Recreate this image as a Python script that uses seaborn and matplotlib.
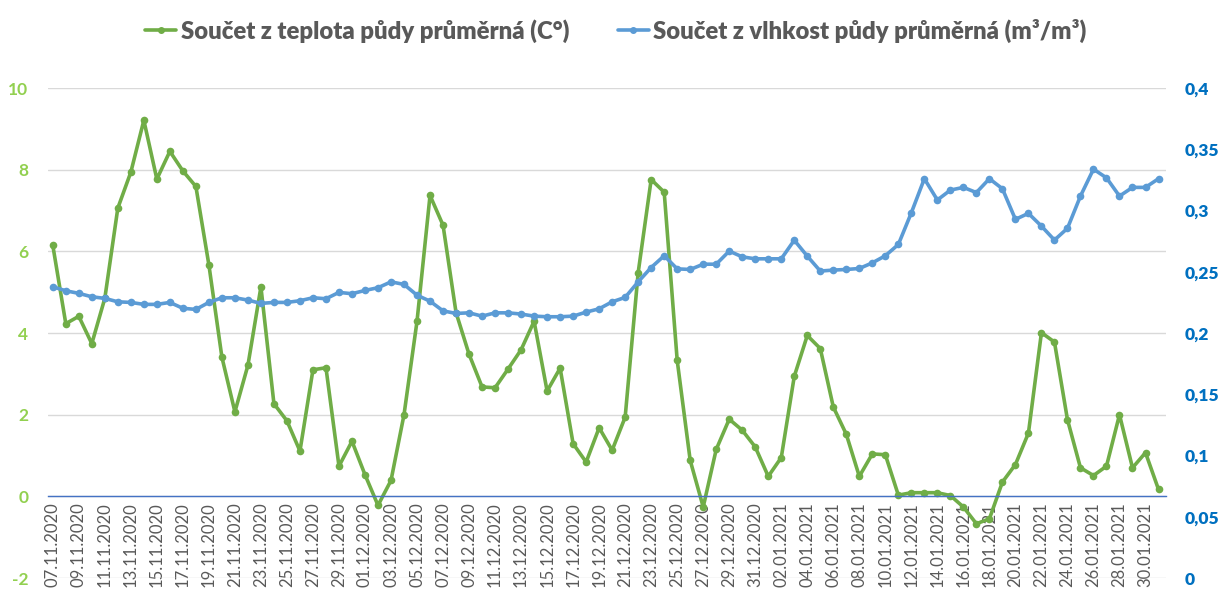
import pandas as pd
import matplotlib.pyplot as plt
import matplotlib.ticker as mticker
from matplotlib.lines import Line2D
import seaborn as sns

# daily values 07.11.2020 - 31.01.2021
dates = pd.date_range("2020-11-07", "2021-01-31", freq="D")

teplota = [6.15, 4.23, 4.41, 3.74, 4.85, 7.06, 7.94, 9.21, 7.77, 8.45,
           7.97, 7.59, 5.67, 3.41, 2.07, 3.21, 5.13, 2.27, 1.85, 1.11,
           3.10, 3.15, 0.74, 1.35, 0.53, -0.22, 0.39, 2.00, 4.29, 7.37,
           6.64, 4.50, 3.48, 2.68, 2.66, 3.12, 3.59, 4.29, 2.58, 3.14,
           1.29, 0.84, 1.68, 1.13, 1.94, 5.48, 7.76, 7.45, 3.33, 0.88,
           -0.26, 1.15, 1.89, 1.62, 1.21, 0.49, 0.95, 2.94, 3.94, 3.62,
           2.19, 1.52, 0.49, 1.04, 1.02, 0.03, 0.09, 0.09, 0.09, 0.02,
           -0.26, -0.67, -0.55, 0.35, 0.78, 1.55, 4.01, 3.78, 1.88, 0.70,
           0.51, 0.74, 2.00, 0.70, 1.07, 0.17]

vlhkost = [0.2378, 0.2345, 0.2324, 0.2296, 0.2283, 0.2255, 0.2250, 0.2234, 0.2234, 0.2250,
           0.2202, 0.2193, 0.2250, 0.2288, 0.2288, 0.2269, 0.2242, 0.2250, 0.2250, 0.2264,
           0.2288, 0.2280, 0.2332, 0.2321, 0.2348, 0.2370, 0.2418, 0.2397, 0.2309, 0.2260,
           0.2181, 0.2160, 0.2165, 0.2138, 0.2165, 0.2165, 0.2155, 0.2138, 0.2133, 0.2133,
           0.2138, 0.2171, 0.2198, 0.2255, 0.2291, 0.2418, 0.2535, 0.2631, 0.2524, 0.2519,
           0.2562, 0.2562, 0.2669, 0.2622, 0.2606, 0.2606, 0.2606, 0.2758, 0.2628, 0.2506,
           0.2514, 0.2519, 0.2527, 0.2573, 0.2631, 0.2723, 0.2982, 0.3260, 0.3086, 0.3167,
           0.3189, 0.3147, 0.3260, 0.3178, 0.2928, 0.2977, 0.2873, 0.2759, 0.2855, 0.3118,
           0.3338, 0.3267, 0.3118, 0.3189, 0.3189, 0.3260]

label_t = "Součet z teplota půdy průměrná (C°)"
label_v = "Součet z vlhkost půdy průměrná (m³/m³)"

df = pd.DataFrame({"i": range(len(dates)), "teplota": teplota, "vlhkost": vlhkost})
tick_labels = [d.strftime("%d.%m.%Y") for d in dates]

GREEN = "#70AD47"
BLUE = "#5B9BD5"

sns.set_theme(style="white")
plt.rcParams["font.family"] = ["Lato", "DejaVu Sans"]
plt.rcParams["axes.unicode_minus"] = False

fig = plt.figure(figsize=(12.2, 5.99), dpi=100)
ax = fig.add_axes([0.039, 0.035, 0.917, 0.818])
ax2 = ax.twinx()

sns.lineplot(data=df, x="i", y="teplota", ax=ax, color=GREEN, lw=2.6,
             marker="o", markersize=5.5, markeredgewidth=0, legend=False)
sns.lineplot(data=df, x="i", y="vlhkost", ax=ax2, color=BLUE, lw=2.6,
             marker="o", markersize=5.5, markeredgewidth=0, legend=False)

ax.set_ylim(-2, 10)
ax.set_yticks(range(-2, 11, 2))
ax2.set_ylim(0, 0.4)
ax2.set_yticks([i * 0.05 for i in range(9)])
ax2.yaxis.set_major_formatter(mticker.FuncFormatter(
    lambda v, p: ("%g" % round(v, 2)).replace(".", ",")))
ax.set_xlim(-0.4, len(dates) - 0.4)

ax.grid(axis="y", color="#D9D9D9", lw=1)
ax.set_axisbelow(True)
for a in (ax, ax2):
    for s in a.spines.values():
        s.set_visible(False)
    a.set_xlabel("")
    a.set_ylabel("")
ax.spines["bottom"].set_visible(True)
ax.spines["bottom"].set_position(("data", 0))
ax.spines["bottom"].set_color("#4472C4")
ax.spines["bottom"].set_linewidth(1)

ax.set_xticks(df["i"][::2])
ax.set_xticklabels(tick_labels[::2], rotation=90, fontsize=12, color="#595959")
ax.tick_params(axis="x", length=0, pad=4)
ax.tick_params(axis="y", length=0, labelsize=12.5, labelcolor="#92D050", pad=14)
for t in ax.get_yticklabels():
    t.set_fontweight("bold")
ax2.tick_params(axis="y", length=0, labelsize=12.5, labelcolor="#0070C0", pad=13)
for t in ax2.get_yticklabels():
    t.set_fontweight("heavy")

handles = [Line2D([], [], color=GREEN, lw=2.6, marker="o", markersize=4),
           Line2D([], [], color=BLUE, lw=2.6, marker="o", markersize=4)]
leg = fig.legend(handles, [label_t, label_v], loc="upper center",
                 bbox_to_anchor=(0.505, 1.005), ncol=2, frameon=False,
                 handlelength=1.3, handletextpad=0.2, columnspacing=2.0,
                 prop={"weight": "heavy", "size": 17.2})
for t in leg.get_texts():
    t.set_color("#595959")

fig.savefig("out.png", dpi=100)
